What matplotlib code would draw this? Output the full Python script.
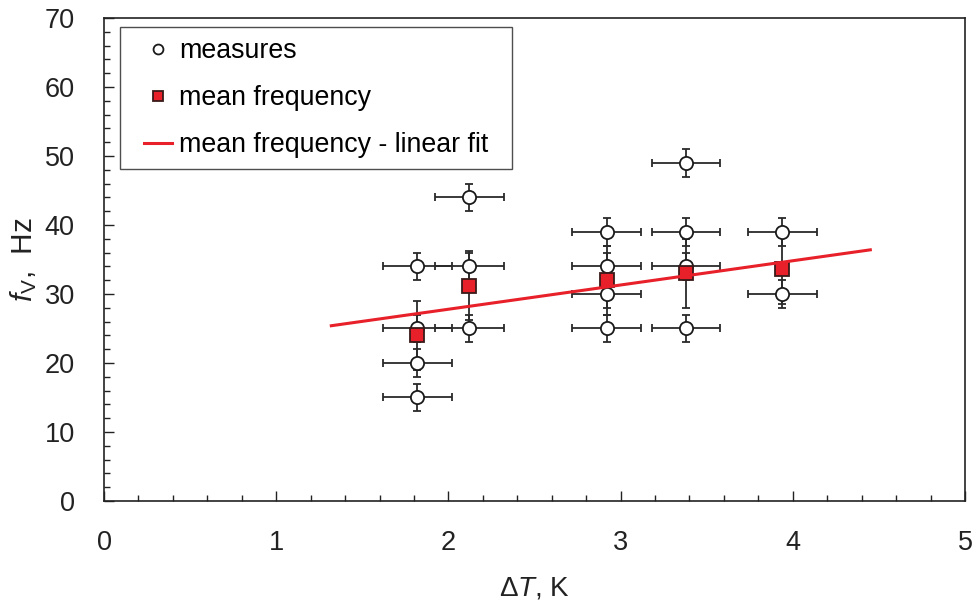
import matplotlib
matplotlib.use("Agg")
import matplotlib.pyplot as plt
from matplotlib.ticker import MultipleLocator
from matplotlib.lines import Line2D
from matplotlib.legend_handler import HandlerLine2D

plt.rcParams['font.family'] = ['Liberation Sans', 'DejaVu Sans']
plt.rcParams['mathtext.fontset'] = 'custom'
plt.rcParams['mathtext.rm'] = 'Liberation Sans'
plt.rcParams['mathtext.it'] = 'Liberation Sans:italic'

# measures
meas_x = [1.82, 1.82, 1.82, 1.82, 2.12, 2.12, 2.12,
          2.92, 2.92, 2.92, 2.92, 3.38, 3.38, 3.38, 3.38, 3.94, 3.94]
meas_y = [34, 25, 20, 15, 44, 34, 25,
          39, 34, 30, 25, 49, 39, 34, 25, 39, 30]
meas_xerr = 0.2
meas_yerr = 2

# mean frequency
mean_x = [1.82, 2.12, 2.92, 3.38, 3.94]
mean_y = [24.0, 31.2, 32.0, 33.0, 33.6]
mean_yerr = [5, 5, 5, 5, 5]

# linear fit endpoints
fit_x = [1.32, 4.45]
fit_y = [25.4, 36.4]


class ShortHandler(HandlerLine2D):
    def create_artists(self, legend, orig_handle, xdescent, ydescent,
                       width, height, fontsize, trans):
        cut = 0.31 * width
        return super().create_artists(legend, orig_handle, xdescent - cut,
                                      ydescent, width - cut, height,
                                      fontsize, trans)


fig = plt.figure(figsize=(9.73, 6.06), dpi=100)
ax = fig.add_axes([0.1069, 0.1733, 0.8849, 0.797])

ecol = '#2a2a2a'
ax.errorbar(mean_x, mean_y, yerr=mean_yerr, fmt='none', ecolor=ecol,
            elinewidth=1.3, capsize=3, capthick=1.3, zorder=2)
ax.errorbar(meas_x, meas_y, xerr=meas_xerr, yerr=meas_yerr, fmt='none',
            ecolor=ecol, elinewidth=1.3, capsize=3, capthick=1.3, zorder=2)
ax.plot(meas_x, meas_y, 'o', ms=9.5, mfc='white', mec='#1a1a1a', mew=1.3,
        zorder=3, label='measures')
ax.plot(mean_x, mean_y, 's', ms=10.5, mfc='#e8202a', mec='#3a1a1a', mew=1.3,
        zorder=4, label='mean frequency')
ax.plot(fit_x, fit_y, '-', color='#e8202a', lw=2.2, zorder=5,
        label='mean frequency - linear fit')

ax.set_xlim(0, 5)
ax.set_ylim(0, 70)
ax.xaxis.set_major_locator(MultipleLocator(1))
ax.xaxis.set_minor_locator(MultipleLocator(0.2))
ax.yaxis.set_major_locator(MultipleLocator(10))
ax.yaxis.set_minor_locator(MultipleLocator(2))
ax.tick_params(which='both', direction='in', width=1, colors='#222222',
               labelsize=19.5, labelcolor='#222222')
ax.tick_params(which='major', length=7)
ax.tick_params(which='minor', length=4)
ax.tick_params(axis='x', pad=21)
ax.tick_params(axis='y', pad=21)
for s in ax.spines.values():
    s.set_linewidth(1.2)
    s.set_color('#222222')

ax.set_xlabel(r'$\Delta T$, K', fontsize=20, labelpad=14, color='#222222')
ax.set_ylabel(r'$f_{\mathrm{V}}$,  Hz', fontsize=21.5, labelpad=4, color='#222222')

leg = ax.legend(loc='upper left', bbox_to_anchor=(0.0186, 0.5, 0.4553, 0.4814),
                mode='expand', fontsize=19.3,
                frameon=True, fancybox=False, edgecolor='#222222',
                handlelength=1.51, handletextpad=0.26, labelspacing=0.78,
                borderpad=0.42, borderaxespad=0.0, markerscale=0.75,
                handler_map={Line2D: ShortHandler()})
leg.get_frame().set_linewidth(1.0)

fig.savefig('out.png', dpi=100)
